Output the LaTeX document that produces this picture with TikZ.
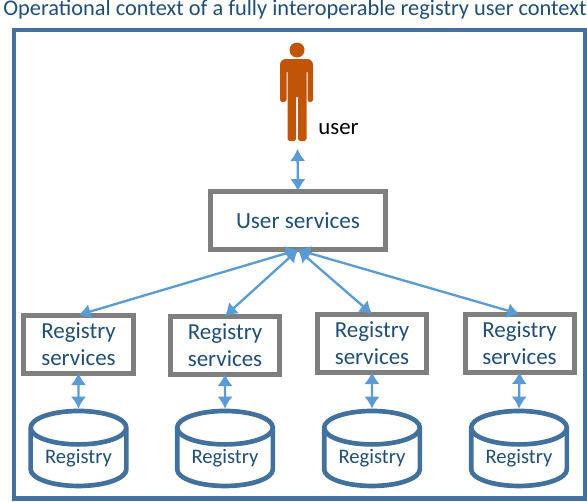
\documentclass[tikz,border=0pt]{standalone}
\usepackage{fontspec}
\setmainfont{Carlito}
\usetikzlibrary{arrows.meta,shapes.geometric}
\definecolor{framecol}{HTML}{41719C}
\definecolor{textcol}{HTML}{1F4E79}
\definecolor{boxcol}{HTML}{7F7F7F}
\definecolor{linkcol}{HTML}{5B9BD5}
\definecolor{usercol}{HTML}{C05508}
\begin{document}
\begin{tikzpicture}[x=0.03cm,y=-0.03cm]

\tikzset{service/.style = {shape=rectangle,draw=boxcol,line width=0.15cm,text=textcol,align=center,inner sep=0pt,outer sep=0pt}}
\tikzset{regservice/.style = {service,minimum width=3.27cm,minimum height=1.74cm,font=\fontsize{19.6}{23}\selectfont}}
\tikzset{store/.style = {shape=cylinder,shape border rotate=90,aspect=0.5,draw=framecol,line width=0.14cm,text=textcol,minimum width=2.87cm,minimum height=2.25cm,inner sep=0pt,font=\fontsize{17.6}{20}\selectfont}}
\tikzset{edge/.style = {{Latex[length=0.36cm,width=0.46cm]}-{Latex[length=0.36cm,width=0.46cm]},draw=linkcol,line width=0.07cm}}

\useasboundingbox (0,0) rectangle (587,501);
\draw[framecol,line width=0.135cm] (14,30) rectangle (585,498.5);
\node[text=textcol,font=\fontsize{19.1}{22}\selectfont] (title) at (295,10) {Operational context of a fully interoperable registry user context};

% user figure
\fill[usercol] (297,50) circle (7.5);
\fill[usercol] (297,59) [rounded corners=5pt] -- (313,59) -- (313,80) [rounded corners=1.5pt] -- (313,102) -- (307.5,102) [sharp corners] -- (307.5,72) -- (306.5,72) [rounded corners=1.5pt] -- (306.5,141) -- (298,141) [sharp corners] -- (298,97) -- (296,97) [rounded corners=1.5pt] -- (296,141) -- (287.5,141) [sharp corners] -- (287.5,72) -- (286.5,72) [rounded corners=1.5pt] -- (286.5,102) -- (280,102) -- (280,80) [rounded corners=5pt] -- (280,59) -- cycle;
\node[text=black,font=\fontsize{19.5}{22}\selectfont] (user) at (338.5,129) {user};
\coordinate (foot) at (297.5,149);

% services
\node[service,minimum width=5.25cm,minimum height=1.76cm,font=\fontsize{19.8}{23}\selectfont] (us) at (298,220.5) {User services};
\node[regservice] (s1) at (78.5,344) {Registry\\services};
\node[regservice] (s2) at (225,345) {Registry\\services};
\node[regservice] (s3) at (372,343) {Registry\\services};
\node[regservice] (s4) at (519.5,343) {Registry\\services};

% registries
\node[store] (r1) at (78.5,458) {Registry};
\node[store] (r2) at (225,458) {Registry};
\node[store] (r3) at (372,458) {Registry};
\node[store] (r4) at (519,458) {Registry};

\draw[edge] (foot) to (us.north);
\draw[edge] (us.south) to (s1.north);
\draw[edge] (us.south) to (s2.north);
\draw[edge] (us.south) to (s3.north);
\draw[edge] (us.south) to (s4.north);
\draw[edge] (s1.south) to (r1.north);
\draw[edge] (s2.south) to (r2.north);
\draw[edge] (s3.south) to (r3.north);
\draw[edge] (s4.south) to (r4.north);
\end{tikzpicture}
\end{document}
